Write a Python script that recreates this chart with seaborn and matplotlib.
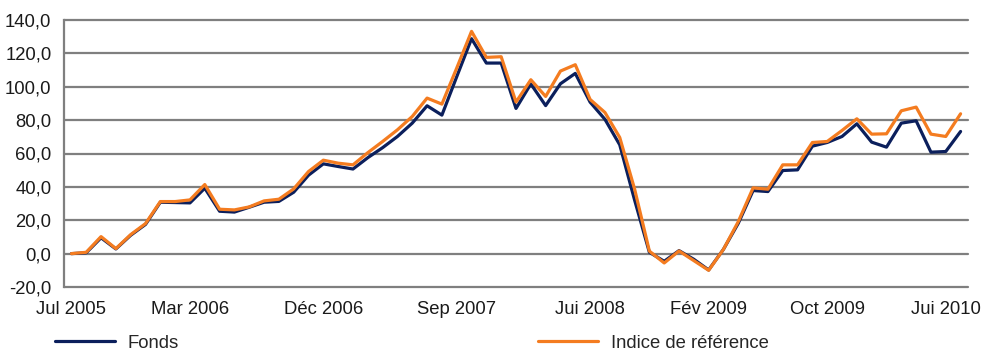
import numpy as np
import pandas as pd
import seaborn as sns
import matplotlib
matplotlib.use("Agg")
import matplotlib.pyplot as plt
from matplotlib.ticker import FuncFormatter

# Monthly performance since July 2005 (base 0), July 2005 .. July 2010
fonds = [0.0, 0.5, 9.5, 2.8, 11.0, 17.5, 30.8, 30.6, 30.4, 39.2,
         25.4, 24.9, 27.8, 30.8, 31.3, 36.8, 47.0, 53.8, 52.2, 50.7,
         57.5, 63.5, 70.2, 78.2, 88.6, 83.0, 106.0, 128.8, 114.2, 114.2,
         87.0, 101.7, 88.7, 101.8, 108.0, 90.8, 80.5, 65.2, 32.2, 0.8,
         -4.6, 1.8, -3.4, -9.8, 2.6, 18.2, 37.8, 37.2, 49.8, 50.2,
         64.4, 66.6, 70.2, 77.8, 66.8, 63.8, 78.2, 79.6, 60.8, 61.2,
         73.2]
indice = [0.0, 0.8, 10.2, 3.0, 11.4, 18.0, 31.2, 31.2, 32.2, 41.4,
          26.6, 26.2, 28.0, 31.6, 32.6, 38.8, 49.2, 56.0, 54.2, 53.2,
          60.5, 67.2, 74.2, 82.2, 93.2, 89.6, 111.2, 133.2, 117.6, 118.0,
          90.8, 104.2, 94.2, 109.4, 113.2, 92.4, 84.6, 69.6, 38.8, 1.5,
          -5.6, 1.6, -4.2, -10.0, 2.6, 19.2, 39.4, 38.6, 53.2, 53.2,
          66.6, 67.2, 73.8, 80.8, 71.6, 71.8, 85.6, 87.8, 71.6, 70.2,
          83.8]

series_names = ["Fonds", "Indice de référence"]
tick_positions = [0, 8, 17, 26, 35, 43, 51, 59]
tick_labels = ["Jul 2005", "Mar 2006", "Déc 2006", "Sep 2007",
               "Jui 2008", "Fév 2009", "Oct 2009", "Jui 2010"]
y_ticks = [-20, 0, 20, 40, 60, 80, 100, 120, 140]

months = np.arange(len(fonds))
df = pd.DataFrame({
    "mois": np.concatenate([months, months]),
    "valeur": fonds + indice,
    "serie": [series_names[0]] * len(fonds) + [series_names[1]] * len(indice),
})

sns.set_style("white")
plt.rcParams["font.family"] = ["Liberation Sans", "DejaVu Sans"]

navy = "#0b1f5c"
orange = "#f47c20"
grid_gray = "#7f7f7f"

fig = plt.figure(figsize=(9.96, 3.51), dpi=100)
ax = fig.add_axes([64 / 996, 1 - 287 / 351, (968 - 64) / 996, (287 - 20) / 351])

sns.lineplot(data=df, x="mois", y="valeur", hue="serie",
             hue_order=series_names,
             palette={series_names[0]: navy, series_names[1]: orange},
             linewidth=2.3, ax=ax, legend=True)

ax.set_xlim(-0.5, len(fonds) - 0.5)
ax.set_ylim(-20, 140)
ax.set_yticks(y_ticks)
ax.yaxis.set_major_formatter(FuncFormatter(lambda v, p: f"{v:.1f}".replace(".", ",")))
ax.set_xticks(tick_positions)
ax.set_xticklabels(tick_labels)
ax.set_xlabel("")
ax.set_ylabel("")

ax.tick_params(axis="both", length=0, labelsize=13.3, colors="#1a1a1a")
ax.tick_params(axis="y", pad=9)
ax.tick_params(axis="x", pad=10)

ax.yaxis.grid(True, color=grid_gray, linewidth=1.6)
ax.xaxis.grid(False)
for gl in ax.yaxis.get_gridlines():
    gl.set_clip_on(False)
ax.set_axisbelow(True)

for side in ["top", "right", "bottom"]:
    ax.spines[side].set_visible(False)
ax.spines["left"].set_color(grid_gray)
ax.spines["left"].set_linewidth(1.6)

handles, labels = ax.get_legend_handles_labels()
ax.legend_.remove()
fig.legend(handles, labels, ncol=2, loc="center left",
           bbox_to_anchor=(55 / 996, 1 - 343 / 351),
           frameon=False, fontsize=13.3, handlelength=3.25,
           handletextpad=0.7, columnspacing=19.4,
           borderpad=0, borderaxespad=0)

fig.savefig("out.png", dpi=100)
